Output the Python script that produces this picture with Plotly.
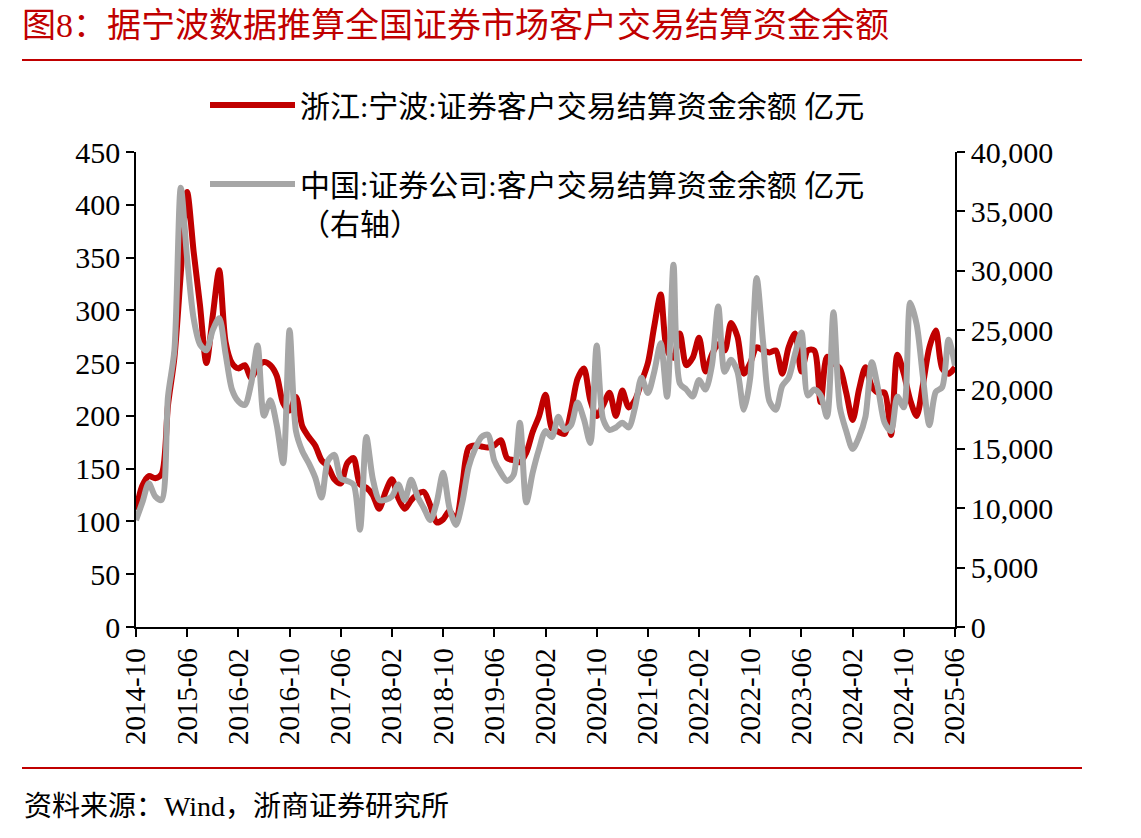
import plotly.graph_objects as go
import pandas as pd

months = [p.strftime("%Y-%m") for p in pd.period_range("2014-10", "2025-06", freq="M")]
tick_labels = months[::8]

ningbo = [111, 134, 143, 141, 145, 210, 255, 335, 412, 356,
          305, 250, 295, 338, 270, 250, 245, 248, 236, 246,
          251, 248, 238, 212, 205, 218, 190, 180, 172, 158,
          152, 140, 136, 155, 160, 135, 132, 125, 112, 128,
          140, 122, 112, 120, 126, 128, 115, 99, 102, 110,
          101, 135, 170, 172, 171, 170, 172, 177, 160, 158,
          156, 165, 185, 200, 220, 188, 185, 183, 205, 235,
          245, 215, 200, 210, 222, 200, 224, 208, 215, 232,
          250, 285, 315, 262, 255, 278, 248, 255, 274, 242,
          258, 268, 262, 288, 275, 240, 250, 265, 262, 260,
          262, 240, 265, 278, 242, 262, 262, 213, 256, 250,
          245, 222, 196, 225, 246, 228, 222, 222, 182, 258,
          240, 215, 200, 230, 265, 281, 245, 240, 246]

china = [9000, 10500, 12100, 11000, 10700, 19400, 23300, 37000, 31000, 26000,
         23800, 23300, 25000, 26000, 23000, 20000, 19000, 18700, 20500, 23700,
         17800, 19100, 17000, 13800, 25000, 16500, 14800, 13800, 12600, 10900,
         14000, 14500, 12500, 12300, 12000, 8200, 16000, 12500, 10700, 10700,
         11000, 12000, 10700, 12400, 11000, 10000, 9000, 10500, 13000, 10000,
         8600, 10500, 13500, 15000, 16000, 16200, 14000, 13000, 12300, 12800,
         17200, 10500, 13000, 15000, 16500, 16000, 17700, 16600, 17000, 18900,
         17500, 15500, 23700, 17500, 16600, 16800, 17200, 16800, 18500, 21000,
         19700, 21500, 23900, 19400, 30500, 20500, 20000, 19400, 20800, 20000,
         22000, 27000, 21500, 22500, 21500, 18300, 21000, 29400, 24000, 19000,
         18300, 20300, 21000, 23000, 24800, 19500, 20000, 19500, 17700, 26500,
         18500, 16500, 15000, 16000, 17700, 22300, 20000, 17200, 16500, 19400,
         18500, 27300, 25500, 21000, 17000, 19800, 20200, 24200, 22000]

name_ningbo = "浙江:宁波:证券客户交易结算资金余额 亿元"
name_china = "中国:证券公司:客户交易结算资金余额 亿元<br>（右轴）"

RED = "#C00000"
GRAY = "#A6A6A6"
FONT = "Liberation Serif, Noto Sans CJK SC, serif"

def px_x(px):
    return (px - 136) / 819

def px_y(py):
    return (627 - py) / 475

fig = go.Figure()
fig.add_trace(go.Scatter(x=months, y=ningbo, name=name_ningbo, mode="lines",
                         line=dict(color=RED, width=6, shape="spline", smoothing=0.8),
                         legend="legend", showlegend=True))
fig.add_trace(go.Scatter(x=months, y=china, name=name_china, mode="lines", yaxis="y2",
                         line=dict(color=GRAY, width=6, shape="spline", smoothing=0.8),
                         legend="legend2", showlegend=True))

fig.update_layout(
    width=1141, height=838,
    showlegend=True,
    margin=dict(l=136, r=186, t=152, b=211),
    paper_bgcolor="white", plot_bgcolor="white",
    font=dict(family=FONT, size=30, color="black"),
    title=dict(text="图8：据宁波数据推算全国证券市场客户交易结算资金余额",
               x=22 / 1141, xanchor="left", y=1 - 25 / 838, yanchor="middle",
               font=dict(family=FONT, size=34, color=RED)),
    xaxis=dict(type="category", range=[0, len(months) - 1],
               tickmode="array", tickvals=tick_labels, ticktext=tick_labels,
               tickangle=-90, ticks="outside", ticklen=8, tickwidth=1.5, tickcolor="black",
               showline=True, linecolor="black", linewidth=1.5, showgrid=False,
               tickfont=dict(size=29), zeroline=False),
    yaxis=dict(range=[0, 450], dtick=50, tick0=0, ticks="outside", ticklen=8,
               tickwidth=1.5, tickcolor="black", showline=True, linecolor="black",
               linewidth=1.5, showgrid=False, zeroline=False, tickfont=dict(size=30)),
    yaxis2=dict(range=[0, 40000], dtick=5000, tick0=0, overlaying="y", side="right",
                ticks="outside", ticklen=8, tickwidth=1.5, tickcolor="black",
                showline=True, linecolor="black", linewidth=1.5, showgrid=False,
                zeroline=False, tickformat=",", tickfont=dict(size=30)),
    legend=dict(x=px_x(205), xanchor="left", y=px_y(105), yanchor="middle",
                bgcolor="rgba(0,0,0,0)", font=dict(size=30), itemwidth=85, valign="middle"),
    legend2=dict(x=px_x(205), xanchor="left", y=px_y(158), yanchor="top",
                 bgcolor="rgba(0,0,0,0)", font=dict(size=30), itemwidth=85, valign="top"),
    shapes=[
        dict(type="line", xref="paper", yref="paper", x0=px_x(22), x1=px_x(1082),
             y0=px_y(60), y1=px_y(60), line=dict(color=RED, width=2)),
        dict(type="line", xref="paper", yref="paper", x0=px_x(22), x1=px_x(1082),
             y0=px_y(768), y1=px_y(768), line=dict(color=RED, width=2)),
    ],
    annotations=[
        dict(text="资料来源：Wind，浙商证券研究所", xref="paper", yref="paper",
             x=px_x(22), xanchor="left", y=px_y(806), yanchor="middle",
             showarrow=False, font=dict(family=FONT, size=28, color="black")),
    ],
)

fig.write_html("out.html")
